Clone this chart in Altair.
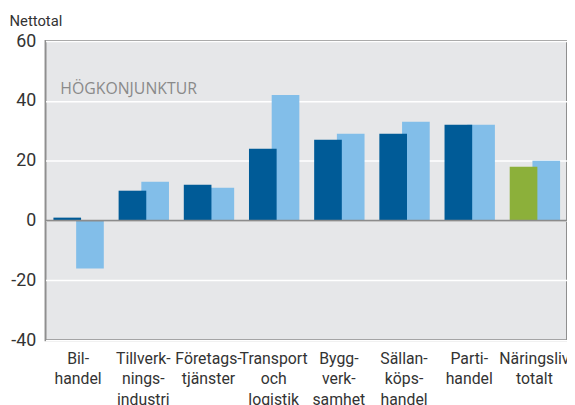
import altair as alt
import pandas as pd

categories = [
    "Bil-\nhandel",
    "Tillverk-\nnings-\nindustri",
    "Företags-\ntjänster",
    "Transport\noch\nlogistik",
    "Bygg-\nverk-\nsamhet",
    "Sällan-\nköps-\nhandel",
    "Parti-\nhandel",
    "Näringsliv\ntotalt",
]
series_a = [1, 10, 12, 24, 27, 29, 32, 18]
series_b = [-16, 13, 11, 42, 29, 33, 32, 20]
y_ticks = [-40, -20, 0, 20, 40, 60]
annotation = "HÖGKONJUNKTUR"

DARK = "#005b97"
LIGHT = "#82bee9"
GREEN = "#8cb03a"
FONT = "Roboto"

df = pd.DataFrame({"kat": categories, "a": series_a, "b": series_b})
ann = pd.DataFrame({"kat": [categories[0]], "y": [44], "t": [annotation]})
zero = pd.DataFrame({"y": [0]})

x_enc = alt.X(
    "kat:N",
    sort=categories,
    scale=alt.Scale(paddingInner=0, paddingOuter=0),
    axis=alt.Axis(
        title=None,
        labelAngle=0,
        labelExpr="split(datum.label, '\\n')",
        labelFontSize=16,
        labelLineHeight=21,
        labelColor="#333333",
        labelPadding=10,
        labelBaseline="top",
        labelFont=FONT,
        ticks=False,
        domain=False,
        labelLimit=200,
    ),
)
y_scale = alt.Scale(domain=[-40, 60], nice=False, zero=False)
y_axis = alt.Axis(
    values=y_ticks,
    title="Nettotal",
    titleAngle=0,
    titleAlign="left",
    titleBaseline="middle",
    titleX=-37,
    titleY=-21,
    titleFontSize=15,
    titleFontWeight="normal",
    titleColor="#333333",
    titleFont=FONT,
    labelExpr="'' + datum.value",
    labelFontSize=18,
    labelColor="#333333",
    labelPadding=10,
    labelFont=FONT,
    ticks=False,
    domain=False,
    gridColor="white",
    gridWidth=1.5,
)

light = alt.Chart(df).mark_bar(width=28, xOffset=12, color=LIGHT).encode(
    x=x_enc,
    y=alt.Y("b:Q", scale=y_scale, axis=y_axis),
)
dark = alt.Chart(df).mark_bar(width=28, xOffset=-11).encode(
    x=x_enc,
    y=alt.Y("a:Q", scale=y_scale),
    color=alt.condition(
        alt.datum.kat == categories[-1], alt.value(GREEN), alt.value(DARK)
    ),
)
zero_rule = alt.Chart(zero).mark_rule(color="#8c8c8c", strokeWidth=2).encode(
    y=alt.Y("y:Q", scale=y_scale)
)
text = alt.Chart(ann).mark_text(
    align="left", baseline="middle", dx=15, fontSize=16, color="#8a8a8a", font="Open Sans"
).encode(
    x=alt.X("kat:N", sort=categories, bandPosition=0),
    y=alt.Y("y:Q", scale=y_scale),
    text="t:N",
)

chart = (
    alt.layer(light, dark, zero_rule, text)
    .properties(
        width=528,
        height=303,
        autosize=alt.AutoSizeParams(type="none"),
        padding={"left": 38, "top": 31, "right": 0, "bottom": 63},
        background="white",
    )
    .configure_view(fill="#e6e7e9", stroke="#8f8f8f", strokeWidth=2)
)

chart.save("out.html", embed_options={"renderer": "svg", "actions": False})
